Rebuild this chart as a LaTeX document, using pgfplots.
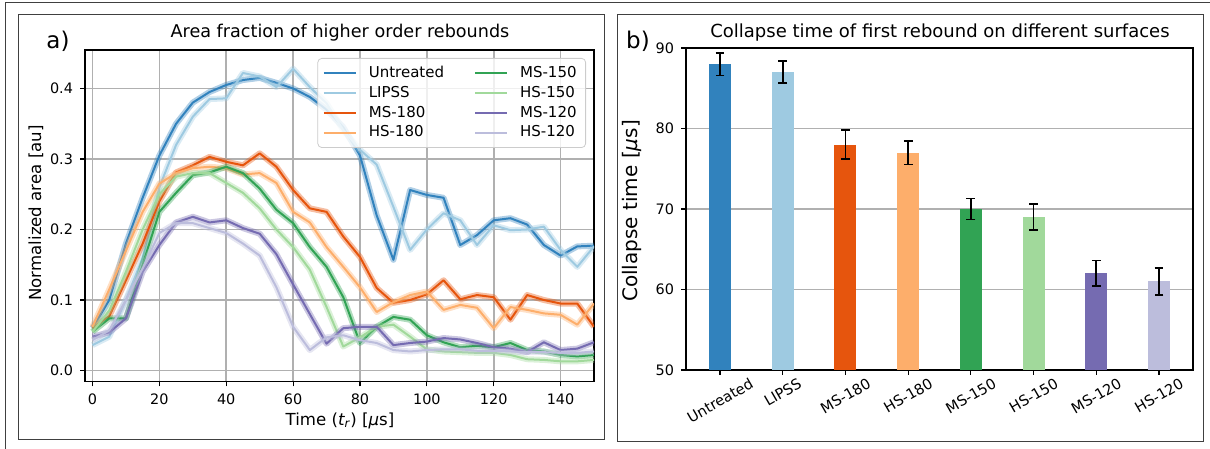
\documentclass[border=0pt]{standalone}
\usepackage{fontspec}
\setmainfont{DejaVu Sans}
\usepackage{graphicx}
\usepackage{pgfplots}
\usepackage{pgfplotstable}
\pgfplotsset{compat=1.18}
\definecolor{cU}{HTML}{3182BD}
\definecolor{cL}{HTML}{9ECAE1}
\definecolor{cMa}{HTML}{E6550D}
\definecolor{cHa}{HTML}{FDAE6B}
\definecolor{cMb}{HTML}{31A354}
\definecolor{cHb}{HTML}{A1D99B}
\definecolor{cMc}{HTML}{756BB1}
\definecolor{cHc}{HTML}{BCBDDC}
\definecolor{gridc}{HTML}{B0B0B0}
\definecolor{framec}{HTML}{404040}

\pgfplotstableread{
t U L Ma Ha Mb Hb Mc Hc
0 0.060 0.036 0.060 0.062 0.055 0.055 0.048 0.043
5 0.100 0.048 0.077 0.115 0.074 0.085 0.054 0.057
10 0.180 0.100 0.128 0.170 0.074 0.140 0.074 0.100
15 0.245 0.160 0.180 0.225 0.150 0.200 0.140 0.145
20 0.305 0.260 0.240 0.265 0.225 0.250 0.178 0.195
25 0.350 0.320 0.281 0.280 0.252 0.275 0.210 0.209
30 0.380 0.360 0.291 0.287 0.277 0.280 0.218 0.209
35 0.395 0.385 0.303 0.289 0.281 0.280 0.210 0.202
40 0.405 0.386 0.296 0.287 0.289 0.266 0.213 0.195
45 0.412 0.422 0.291 0.278 0.280 0.252 0.202 0.180
50 0.415 0.417 0.308 0.280 0.258 0.230 0.194 0.163
55 0.408 0.402 0.289 0.266 0.228 0.200 0.165 0.118
60 0.400 0.428 0.256 0.225 0.209 0.175 0.122 0.062
65 0.388 0.402 0.230 0.210 0.175 0.143 0.080 0.029
70 0.370 0.379 0.225 0.175 0.147 0.090 0.038 0.047
75 0.345 0.341 0.190 0.147 0.104 0.034 0.060 0.050
80 0.305 0.313 0.161 0.118 0.039 0.047 0.062 0.043
85 0.220 0.292 0.117 0.083 0.062 0.062 0.062 0.039
90 0.157 0.232 0.096 0.097 0.076 0.065 0.036 0.029
95 0.256 0.171 0.100 0.107 0.072 0.048 0.039 0.027
100 0.249 0.200 0.108 0.112 0.050 0.030 0.041 0.029
105 0.245 0.223 0.128 0.086 0.040 0.027 0.046 0.030
110 0.178 0.213 0.101 0.093 0.033 0.026 0.044 0.030
115 0.192 0.178 0.107 0.089 0.035 0.025 0.039 0.028
120 0.213 0.206 0.104 0.060 0.033 0.025 0.033 0.028
125 0.216 0.199 0.072 0.090 0.039 0.022 0.031 0.027
130 0.207 0.200 0.107 0.086 0.029 0.016 0.026 0.026
135 0.178 0.204 0.100 0.081 0.027 0.015 0.040 0.026
140 0.163 0.171 0.095 0.079 0.022 0.013 0.029 0.025
145 0.176 0.147 0.095 0.065 0.020 0.013 0.031 0.025
150 0.177 0.176 0.062 0.095 0.022 0.015 0.040 0.027
}\areadata

\newcommand{\tickfont}{\fontsize{7.2}{8.6}\selectfont}
\pgfplotsset{
  band/.style={forget plot, line width=3pt, opacity=0.38, line join=round},
  mean/.style={forget plot, line width=1pt, line join=round},
  legline/.style={legend image code/.code={\draw[##1, line width=1pt] (0pt,0pt) -- (16pt,0pt);}},
}

\begin{document}
\begin{tikzpicture}
\useasboundingbox (0pt,0pt) rectangle (605pt,224.5pt);
% outer lines
\draw[framec, line width=0.5pt] (2.5pt,0pt) -- (2.5pt,223pt) -- (605pt,223pt);
% panel frames
\draw[framec, line width=0.5pt] (9pt,4.5pt) rectangle (302pt,217pt);
\draw[framec, line width=0.5pt] (308.5pt,3.5pt) rectangle (601.5pt,217pt);

% ---------- left panel ----------
\begin{axis}[
  at={(42.5pt,33.75pt)}, anchor=south west, scale only axis,
  width=254.5pt, height=165.75pt,
  xmin=-2.25, xmax=150, ymin=-0.0156, ymax=0.4546,
  xtick={0,20,40,60,80,100,120,140},
  ytick={0,0.1,0.2,0.3,0.4},
  yticklabel style={/pgf/number format/.cd, fixed, fixed zerofill, precision=1},
  /pgf/number format/assume math mode=true,
  ticklabel style={font=\tickfont},
  grid=major, major grid style={gridc, line width=0.8pt},
  tick align=outside, major tick length=2.5pt, tick style={black, line width=0.6pt},
  xtick pos=bottom, ytick pos=left,
  axis line style={black, line width=0.6pt},
  clip=true,
  legend columns=2,
  legend cell align=left,
  legend style={at={(0.9843,0.9759)}, anchor=north east, draw=black!20, rounded corners=2pt,
    fill=white, fill opacity=0.8, text opacity=1, font=\fontsize{7.5}{9}\selectfont,
    inner xsep=2.5pt, inner ysep=2.5pt, row sep=0pt,
    nodes={inner ysep=1.4pt},
    /tikz/every odd column/.append style={column sep=4pt},
    /tikz/every even column/.append style={column sep=13pt}},
  legline,
]
\addplot[band, cU] table[x=t, y=U] {\areadata};
\addplot[mean, cU] table[x=t, y=U] {\areadata};
\addplot[band, cL] table[x=t, y=L] {\areadata};
\addplot[mean, cL] table[x=t, y=L] {\areadata};
\addplot[band, cMa] table[x=t, y=Ma] {\areadata};
\addplot[mean, cMa] table[x=t, y=Ma] {\areadata};
\addplot[band, cHa] table[x=t, y=Ha] {\areadata};
\addplot[mean, cHa] table[x=t, y=Ha] {\areadata};
\addplot[band, cMb] table[x=t, y=Mb] {\areadata};
\addplot[mean, cMb] table[x=t, y=Mb] {\areadata};
\addplot[band, cHb] table[x=t, y=Hb] {\areadata};
\addplot[mean, cHb] table[x=t, y=Hb] {\areadata};
\addplot[band, cMc] table[x=t, y=Mc] {\areadata};
\addplot[mean, cMc] table[x=t, y=Mc] {\areadata};
\addplot[band, cHc] table[x=t, y=Hc] {\areadata};
\addplot[mean, cHc] table[x=t, y=Hc] {\areadata};
\addlegendimage{cU}\addlegendentry{Untreated}
\addlegendimage{cMb}\addlegendentry{MS-150}
\addlegendimage{cL}\addlegendentry{LIPSS}
\addlegendimage{cHb}\addlegendentry{HS-150}
\addlegendimage{cMa}\addlegendentry{MS-180}
\addlegendimage{cMc}\addlegendentry{MS-120}
\addlegendimage{cHa}\addlegendentry{HS-180}
\addlegendimage{cHc}\addlegendentry{HS-120}
\end{axis}
\node[font=\fontsize{11.5}{13}\selectfont] at (29pt,204pt) {a)};
\node[font=\fontsize{8.8}{10}\selectfont] at (170pt,208pt) {Area fraction of higher order rebounds};
\node[font=\fontsize{8.3}{10}\selectfont, rotate=90] at (18pt,118pt) {Normalized area [au]};
\node[font=\fontsize{8.3}{10}\selectfont] at (170pt,14pt) {Time ({\itshape t}\textsubscript{\itshape r}) [{\itshape μ}s]};

% ---------- right panel ----------
\begin{axis}[
  at={(343pt,39.5pt)}, anchor=south west, scale only axis,
  width=253.5pt, height=161pt,
  xmin=-0.5425, xmax=7.5425, ymin=50, ymax=90,
  xtick={0,1,2,3,4,5,6,7},
  xticklabels={{\rotatebox{30}{Untreated}},{\rotatebox{30}{LIPSS}},{\rotatebox{30}{MS-180}},{\rotatebox{30}{HS-180}},{\rotatebox{30}{MS-150}},{\rotatebox{30}{HS-150}},{\rotatebox{30}{MS-120}},{\rotatebox{30}{HS-120}}},
  xticklabel style={font=\fontsize{7.3}{8.6}\selectfont, anchor=north, inner sep=1pt},
  ytick={50,60,70,80,90},
  /pgf/number format/assume math mode=true,
  yticklabel style={font=\tickfont},
  ymajorgrids, major grid style={gridc, line width=0.8pt},
  tick align=outside, major tick length=2.5pt, tick style={black, line width=0.6pt},
  xtick pos=bottom, ytick pos=left,
  axis line style={black, line width=0.6pt},
]
\pgfplotsset{barst/.style={ybar, bar width=0.35, bar shift=0pt, draw=none, fill=#1,
  error bars/.cd, y dir=both, y explicit,
  error bar style={black, line width=0.8pt},
  error mark options={black, rotate=90, mark size=2.2pt, line width=0.8pt}}}
\addplot[barst=cU] coordinates {(0,88) +- (0,1.4)};
\addplot[barst=cL] coordinates {(1,87) +- (0,1.35)};
\addplot[barst=cMa] coordinates {(2,78) +- (0,1.8)};
\addplot[barst=cHa] coordinates {(3,77) +- (0,1.45)};
\addplot[barst=cMb] coordinates {(4,70) +- (0,1.3)};
\addplot[barst=cHb] coordinates {(5,69) +- (0,1.6)};
\addplot[barst=cMc] coordinates {(6,62) +- (0,1.6)};
\addplot[barst=cHc] coordinates {(7,61) +- (0,1.7)};
\end{axis}
\node[font=\fontsize{11.5}{13}\selectfont] at (319pt,204pt) {b)};
\node[font=\fontsize{9}{10}\selectfont] at (470pt,208pt) {Collapse time of first rebound on different surfaces};
\node[font=\fontsize{10}{12}\selectfont, rotate=90] at (316pt,119pt) {Collapse time [{\itshape μ}s]};
\end{tikzpicture}
\end{document}
